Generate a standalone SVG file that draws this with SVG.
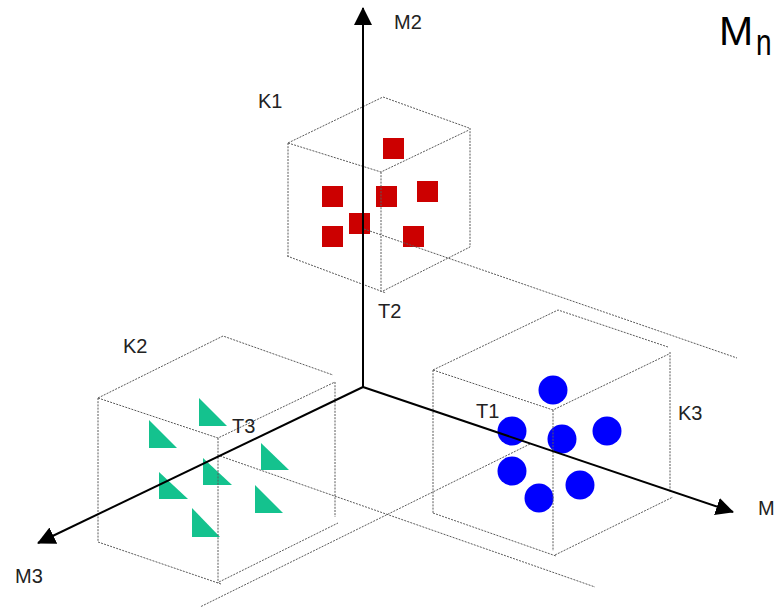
<svg xmlns="http://www.w3.org/2000/svg" width="778" height="607" viewBox="0 0 778 607">
  <style>
    .edge { fill: none; stroke: #5a5a5a; stroke-width: 1; stroke-dasharray: 2 1.2; }
    .axis { fill: none; stroke: #000; stroke-width: 2; }
    .lbl { font-family: "Liberation Sans", Arial, sans-serif; font-size: 20px; fill: #222; }
    .big { font-family: "Liberation Sans", Arial, sans-serif; fill: #000; }
    .sq { fill: #cc0000; }
    .dot { fill: #0000ff; }
    .tri { fill: #14c28e; }
  </style>
  <defs>
    <marker id="arrow" viewBox="0 0 18 18" refX="17" refY="9" markerWidth="18" markerHeight="18" markerUnits="userSpaceOnUse" orient="auto">
      <path d="M0,0 L18,9 L0,18 z" fill="#000"/>
    </marker>
  </defs>
  <rect width="778" height="607" fill="#fff"/>

  <!-- Cluster K1 : red squares in a wire cube -->
  <g id="K1">
    <rect class="sq" x="383" y="138" width="21" height="21"/>
    <rect class="sq" x="322" y="186" width="21" height="21"/>
    <rect class="sq" x="376" y="186" width="21" height="21"/>
    <rect class="sq" x="417" y="181" width="21" height="21"/>
    <rect class="sq" x="349" y="213" width="21" height="21"/>
    <rect class="sq" x="322" y="226" width="21" height="21"/>
    <rect class="sq" x="403" y="226" width="21" height="21"/>
    <path class="edge" d="M288,143 L383,97 L469,128 M288,143 L381,172 L469,130 M288,143 V256 M381,172 V292 M470,128 V247 M287,256 L386,293 M383,291 L470,247"/>
    <text class="lbl" x="258" y="108">K1</text>
  </g>

  <!-- Cluster K2 : green triangles in a wire cube -->
  <g id="K2">
    <path class="tri" d="M199,398 V426 H227 z"/>
    <path class="tri" d="M149,420 V448 H177 z"/>
    <path class="tri" d="M261,443 V470 H289 z"/>
    <path class="tri" d="M203,458 V485 H232 z"/>
    <path class="tri" d="M159,472 V499 H188 z"/>
    <path class="tri" d="M255,485 V513 H283 z"/>
    <path class="tri" d="M192,508 V537 H220 z"/>
    <path class="edge" d="M98,398 L223,336 L333,375 M98,398 L218,438 L335,382 M98,398 V542 M218,438 V583 M335,382 V517 M98,542 L221,584 M219,582 L338,523"/>
    <text class="lbl" x="123" y="353">K2</text>
  </g>

  <!-- Cluster K3 : blue dots in a wire cube -->
  <g id="K3">
    <circle class="dot" cx="553" cy="390" r="14.5"/>
    <circle class="dot" cx="512" cy="431" r="14.5"/>
    <circle class="dot" cx="562" cy="439" r="14.5"/>
    <circle class="dot" cx="607" cy="431" r="14.5"/>
    <circle class="dot" cx="512" cy="471" r="14.5"/>
    <circle class="dot" cx="580" cy="485" r="14.5"/>
    <circle class="dot" cx="539" cy="498" r="14.5"/>
    <path class="edge" d="M433,370 L558,310 L668,347 M433,370 L553,410 L669,354 M433,370 V513 M553,410 V551 M670,352 V492 M433,513 L556,556 M555,555 L673,497"/>
    <text class="lbl" x="678" y="420">K3</text>
  </g>

  <!-- Projection lines of the cluster centres -->
  <g id="projections">
    <path class="edge" d="M364,229 L737,358"/>
    <path class="edge" d="M220,456 L595,587"/>
    <path class="edge" d="M530,444 L200,607"/>
  </g>

  <!-- Coordinate axes -->
  <g id="axes">
    <line class="axis" x1="363" y1="387" x2="363" y2="8" marker-end="url(#arrow)"/>
    <line class="axis" x1="363" y1="387" x2="733" y2="512" marker-end="url(#arrow)"/>
    <line class="axis" x1="363" y1="387" x2="38" y2="543" marker-end="url(#arrow)"/>
  </g>

  <!-- Axis and centre labels -->
  <g id="labels">
    <text class="lbl" x="394" y="29">M2</text>
    <text class="lbl" x="758" y="515">M</text>
    <text class="lbl" x="15" y="583">M3</text>
    <text class="lbl" x="378" y="318">T2</text>
    <text class="lbl" x="232" y="433">T3</text>
    <text class="lbl" x="476" y="418">T1</text>
    <text class="big" x="719" y="45" font-size="41">M</text>
    <text class="big" transform="translate(756,55) scale(1,1.35)" font-size="28">n</text>
  </g>
</svg>
